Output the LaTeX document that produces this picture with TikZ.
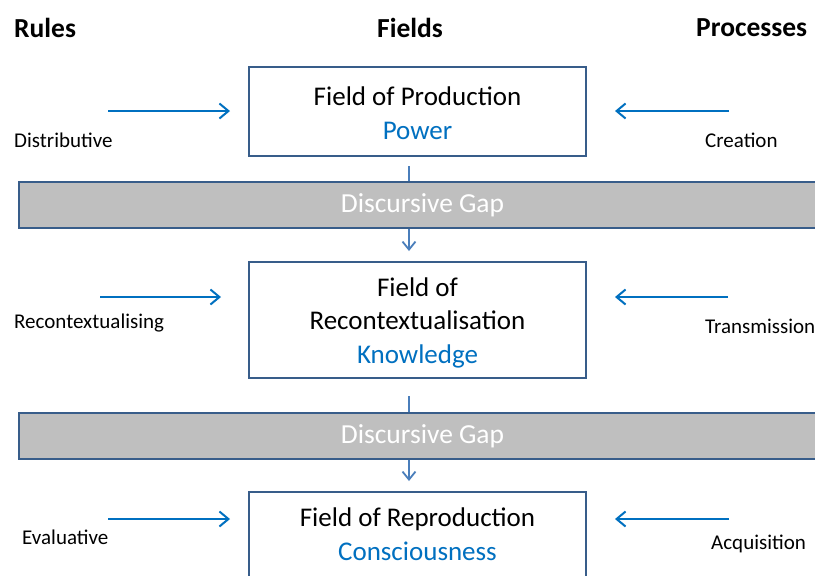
\documentclass[tikz,border=0pt]{standalone}
\usepackage{fontspec}
\setmainfont{Carlito}
\usetikzlibrary{arrows.meta}
\definecolor{frameblue}{HTML}{385D8A}
\definecolor{textblue}{HTML}{0070C0}
\definecolor{linkblue}{HTML}{4A7EBB}
\definecolor{gapgray}{HTML}{BFBFBF}
\tikzset{
  x=1pt, y=-1pt,
  fieldbox/.style={draw=frameblue, line width=2pt, fill=white, minimum width=337pt,
    align=center, font=\fontsize{27}{33.5}\selectfont, inner sep=0pt},
  gapbar/.style={draw=frameblue, line width=2.5pt, fill=gapgray, minimum width=807pt,
    minimum height=46pt, text=white, font=\fontsize{27.5}{32}\selectfont, inner sep=0pt},
  header/.style={font=\fontsize{27.5}{32}\selectfont\bfseries, inner sep=0pt},
  sidelabel/.style={font=\fontsize{21}{24}\selectfont, inner sep=0pt, anchor=west},
  feed/.style={draw=textblue, line width=1.8pt, -{Straight Barb[length=9pt,width=15pt,line width=2pt]}},
  link/.style={draw=linkblue, line width=1.6pt},
  linkarrow/.style={link, -{Straight Barb[length=8pt,width=13pt,line width=1.8pt]}},
}
\begin{document}
\begin{tikzpicture}
\clip (0,0) rectangle (815,576);
\fill[white] (0,0) rectangle (815,576);

% column headers
\node[header, anchor=west] (hrules) at (14,28) {Rules};
\node[header] (hfields) at (410,28) {Fields};
\node[header, anchor=west] (hproc) at (696,28) {Processes};

% the three fields (frames, then their texts)
\node[fieldbox, minimum height=89pt] (prod) at (417.5,111.5) {};
\node[fieldbox, minimum height=116pt] (recon) at (417.5,320) {};
\node[fieldbox, minimum height=92pt] (repro) at (417.5,538) {};
\node[fieldbox, draw=none, fill=none, minimum width=0pt] (prodtxt) at (417.5,113)
  {Field of Production\\\textcolor{textblue}{Power}};
\node[fieldbox, draw=none, fill=none, minimum width=0pt] (recontxt) at (417.5,322.5)
  {Field of\\Recontextualisation\\\textcolor{textblue}{Knowledge}};
\node[fieldbox, draw=none, fill=none, minimum width=0pt] (reprotxt) at (417.5,534)
  {Field of Reproduction\\\textcolor{textblue}{Consciousness}};

% discursive gaps
\node[gapbar] (gapa) at (422.5,205) {Discursive Gap};
\node[gapbar] (gapb) at (422.5,436) {Discursive Gap};

% vertical spine between fields and gaps
\coordinate (spine) at (409,0);
\draw[link, shorten <=9pt] (prod.south -| spine) -- (gapa.north -| spine);
\draw[linkarrow, shorten >=10pt] (gapa.south -| spine) -- (recon.north -| spine);
\draw[link, shorten <=17pt] (recon.south -| spine) -- (gapb.north -| spine);
\draw[linkarrow, shorten >=10pt] (gapb.south -| spine) -- (repro.north -| spine);

% rules (left)
\node[sidelabel] (distr) at (14,140) {Distributive};
\node[sidelabel] (recrule) at (14,323) {Recontextualising};
\node[sidelabel] (evalr) at (22,537) {Evaluative};
\coordinate (ra) at (108,111);
\coordinate (rb) at (100,297);
\coordinate (rc) at (108,519);
\draw[feed, shorten >=18pt] (ra) -- (ra -| prod.west);
\draw[feed, shorten >=27pt] (rb) -- (rb -| recon.west);
\draw[feed, shorten >=18pt] (rc) -- (rc -| repro.west);

% processes (right)
\node[sidelabel] (creat) at (705,140) {Creation};
\node[sidelabel] (trans) at (705,326) {Transmission};
\node[sidelabel] (acq) at (711,544) {Acquisition};
\coordinate (pa) at (729,111);
\coordinate (pb) at (728,297);
\coordinate (pc) at (729,519);
\draw[feed, shorten >=28pt] (pa) -- (pa -| prod.east);
\draw[feed, shorten >=28pt] (pb) -- (pb -| recon.east);
\draw[feed, shorten >=28pt] (pc) -- (pc -| repro.east);
\end{tikzpicture}
\end{document}
